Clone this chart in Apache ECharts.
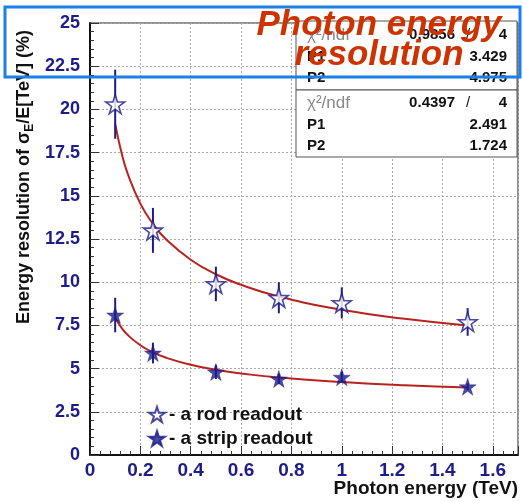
<!DOCTYPE html>
<html><head><meta charset="utf-8">
<script src="https://cdn.jsdelivr.net/npm/echarts@6/dist/echarts.min.js"></script>
<style>html,body{margin:0;padding:0;background:#fff}#c{width:523px;height:502px}</style>
</head><body><div id="c"></div>
<script>
// ---- data ----
const energies = [0.1, 0.25, 0.5, 0.75, 1.0, 1.5];
const rodRes   = [20.3, 13.0, 9.9, 9.1, 8.8, 7.7];
const rodErr   = [2.0, 1.3, 1.0, 0.9, 0.9, 0.8];
const stripRes = [8.1, 5.9, 4.8, 4.4, 4.5, 3.95];
const stripErr = [1.0, 0.6, 0.4, 0.3, 0.3, 0.2];
// fitted curves
const fitE     = [0.1, 0.125, 0.15, 0.2, 0.25, 0.3, 0.4, 0.5, 0.6, 0.75, 1.0, 1.25, 1.5];
const rodFit   = [19.16, 17.50, 16.27, 14.55, 13.38, 12.51, 11.30, 10.46, 9.85, 9.17, 8.40, 7.88, 7.49];
const stripFit = [7.94, 7.37, 6.94, 6.35, 5.94, 5.64, 5.22, 4.93, 4.72, 4.48, 4.22, 4.03, 3.90];
const rodStats   = {chi2: '0.9856', ndf: '4', p1: '3.429', p2: '4.975'};
const stripStats = {chi2: '0.4397', ndf: '4', p1: '2.491', p2: '1.724'};
const seriesNames = ['- a rod readout', '- a strip readout'];

const NAVY = '#1c1c8a';
const RED = '#b8231f';
const FONT = '"Liberation Sans", Arial, sans-serif';
const STAR = 'path://M50 0 L61.23 34.55 L97.55 34.55 L68.17 55.9 L79.39 90.45 L50 69.1 L20.61 90.45 L31.83 55.9 L2.45 34.55 L38.77 34.55 Z';

const zip = (a, b) => a.map((v, i) => [v, b[i]]);
const errData = (res, err) => energies.map((e, i) => [e, res[i] - err[i], res[i] + err[i]]);

function errRender(params, api) {
  const x = api.value(0), lo = api.value(1), hi = api.value(2);
  const p1 = api.coord([x, lo]), p2 = api.coord([x, hi]);
  return {type: 'line', shape: {x1: p1[0], y1: p1[1], x2: p2[0], y2: p2[1]},
          style: {stroke: NAVY, lineWidth: 2}};
}

const chart = echarts.init(document.getElementById('c'), null, {renderer: 'canvas'});

function statsBlock(top, s) {
  const rows = [top + 14, top + 36, top + 57];
  const num = 'bold 15px ' + FONT;
  const els = [];
  els.push({type: 'text', x: 307, y: rows[0], style: {text: 'χ²/ndf', fill: '#888', font: '17px ' + FONT, textVerticalAlign: 'middle'}});
  els.push({type: 'text', x: 455, y: rows[0], style: {text: s.chi2, fill: '#111', font: num, textAlign: 'right', textVerticalAlign: 'middle'}});
  els.push({type: 'text', x: 468, y: rows[0], style: {text: '/', fill: '#111', font: '15px ' + FONT, textAlign: 'center', textVerticalAlign: 'middle'}});
  els.push({type: 'text', x: 507, y: rows[0], style: {text: s.ndf, fill: '#111', font: num, textAlign: 'right', textVerticalAlign: 'middle'}});
  els.push({type: 'text', x: 307, y: rows[1], style: {text: 'P1', fill: '#111', font: num, textVerticalAlign: 'middle'}});
  els.push({type: 'text', x: 507, y: rows[1], style: {text: s.p1, fill: '#111', font: num, textAlign: 'right', textVerticalAlign: 'middle'}});
  els.push({type: 'text', x: 307, y: rows[2], style: {text: 'P2', fill: '#111', font: num, textVerticalAlign: 'middle'}});
  els.push({type: 'text', x: 507, y: rows[2], style: {text: s.p2, fill: '#111', font: num, textAlign: 'right', textVerticalAlign: 'middle'}});
  return els.map(e => Object.assign(e, {z: 50}));
}

const option = {
  backgroundColor: '#fff',
  animation: false,
  grid: {left: 90, right: 5, top: 23, bottom: 47, show: true, borderColor: '#222', borderWidth: 1},
  xAxis: {
    type: 'value', min: 0, max: 1.7, interval: 0.2,
    axisLine: {show: true, lineStyle: {color: '#111', width: 2}},
    axisTick: {inside: true, length: 9, lineStyle: {color: '#333'}},
    minorTick: {show: true, splitNumber: 5, length: 4, lineStyle: {color: '#333'}},
    splitLine: {show: true, lineStyle: {color: '#aaa', type: [2, 2], width: 1}},
    axisLabel: {showMaxLabel: false, color: NAVY, fontWeight: 'bold', fontSize: 19, fontFamily: FONT, margin: 6}
  },
  yAxis: {
    type: 'value', min: 0, max: 25, interval: 2.5,
    axisLine: {show: true, lineStyle: {color: '#111', width: 2}},
    axisTick: {inside: true, length: 9, lineStyle: {color: '#333'}},
    minorTick: {show: true, splitNumber: 5, length: 4, lineStyle: {color: '#333'}},
    splitLine: {show: true, lineStyle: {color: '#aaa', type: [2, 2], width: 1}},
    axisLabel: {color: NAVY, fontWeight: 'bold', fontSize: 18, fontFamily: FONT, margin: 10}
  },
  legend: {
    orient: 'vertical', left: 143, top: 400, itemGap: 5, itemWidth: 16, itemHeight: 16,
    data: seriesNames,
    textStyle: {fontSize: 19, fontWeight: 'bold', color: '#111', fontFamily: FONT, padding: [0, 0, 0, -1]}
  },
  series: [
    {type: 'line', name: 'rodFit', data: zip(fitE, rodFit), smooth: true, showSymbol: false,
     lineStyle: {color: RED, width: 2}, z: 2},
    {type: 'line', name: 'stripFit', data: zip(fitE, stripFit), smooth: true, showSymbol: false,
     lineStyle: {color: RED, width: 2}, z: 2},
    {type: 'custom', name: 'rodErr', renderItem: errRender, data: errData(rodRes, rodErr), encode: {x: 0, y: [1, 2]}, z: 3},
    {type: 'custom', name: 'stripErr', renderItem: errRender, data: errData(stripRes, stripErr), encode: {x: 0, y: [1, 2]}, z: 3},
    {type: 'scatter', name: seriesNames[0], data: zip(energies, rodRes), symbol: STAR, symbolSize: 19,
     itemStyle: {color: '#fff', borderColor: NAVY, borderWidth: 1.6}, z: 5},
    {type: 'scatter', name: seriesNames[1], data: zip(energies, stripRes), symbol: STAR, symbolSize: 17,
     itemStyle: {color: NAVY, borderColor: NAVY, borderWidth: 0.5}, z: 5}
  ],
  graphic: [
    // stats boxes
    {type: 'rect', shape: {x: 296, y: 21, width: 221, height: 69}, style: {fill: '#fff', stroke: '#555', lineWidth: 1}, z: 40},
    {type: 'rect', shape: {x: 296, y: 90, width: 221, height: 67}, style: {fill: '#fff', stroke: '#555', lineWidth: 1}, z: 40},
    ...statsBlock(21, rodStats),
    ...statsBlock(89, stripStats),
    // axis titles
    {type: 'text', x: 24, y: 177, rotation: Math.PI / 2, z: 50,
     style: {text: '{a|Energy resolution of σ}{s|E}{a|/E[TeV] (%)}', textAlign: 'center', textVerticalAlign: 'middle',
       rich: {a: {fontSize: 18, fontWeight: 'bold', fontFamily: FONT, fill: '#111', color: '#111', lineHeight: 24},
              s: {fontSize: 12, fontWeight: 'bold', fontFamily: FONT, color: '#111', fill: '#111', padding: [11, 0, 0, 0], lineHeight: 24}}}},
    {type: 'text', x: 518, y: 489, z: 50,
     style: {text: 'Photon energy (TeV)', fill: '#111', font: 'bold 19px ' + FONT, textAlign: 'right', textVerticalAlign: 'middle'}},
    // highlighted title
    {type: 'rect', shape: {x: 5, y: 7, width: 515, height: 70}, style: {fill: 'none', stroke: '#1a7fe8', lineWidth: 3}, z: 100},
    {type: 'text', x: 379, y: 25, z: 101,
     style: {text: 'Photon energy', fill: '#cc3300', font: 'italic bold 35px ' + FONT, textAlign: 'center', textVerticalAlign: 'middle'}},
    {type: 'text', x: 379, y: 55, z: 101,
     style: {text: 'resolution', fill: '#cc3300', font: 'italic bold 35px ' + FONT, textAlign: 'center', textVerticalAlign: 'middle'}}
  ]
};
chart.setOption(option);
</script>
</body></html>
